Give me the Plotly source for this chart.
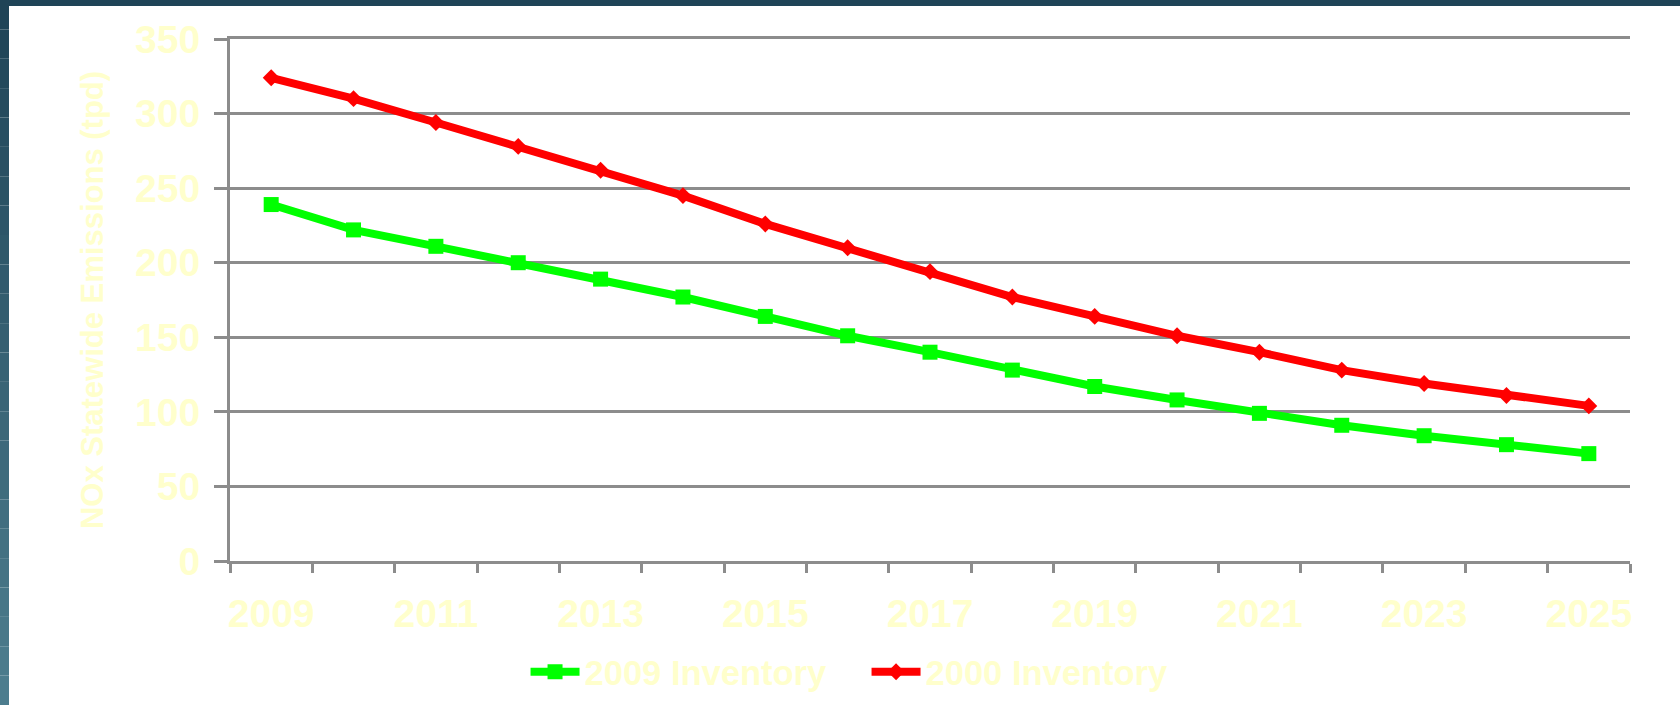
import plotly.graph_objects as go

# ---- data ----
years = [2009, 2010, 2011, 2012, 2013, 2014, 2015, 2016, 2017,
         2018, 2019, 2020, 2021, 2022, 2023, 2024, 2025]
inv_2009 = [239, 222, 211, 200, 189, 177, 164, 151, 140,
            128, 117, 108, 99, 91, 84, 78, 72]
inv_2000 = [324, 310, 294, 278, 262, 245, 226, 210, 194,
            177, 164, 151, 140, 128, 119, 111, 104]
label_years = [2009, 2011, 2013, 2015, 2017, 2019, 2021, 2023, 2025]
series_names = ["2009 Inventory", "2000 Inventory"]
y_title = "NOx Statewide Emissions (tpd)"

TXT = "#FFFFCC"
GRID = "#8c8c8c"
FONT = "Liberation Sans, Arial, sans-serif"

W, H = 1680, 705
L, R, T, B = 230, 50, 39, 144
PW, PH = W - L - R, H - T - B

fig = go.Figure()
fig.add_trace(go.Scatter(
    x=years, y=inv_2009, name=series_names[0], mode="lines+markers",
    line=dict(color="#00FF00", width=8),
    marker=dict(symbol="square", size=15, color="#00FF00"),
))
fig.add_trace(go.Scatter(
    x=years, y=inv_2000, name=series_names[1], mode="lines+markers",
    line=dict(color="#FF0000", width=8),
    marker=dict(symbol="diamond", size=13, color="#FF0000"),
))

# decorative slide frame (top and left dark strips)
def px_x(px):
    return (px - L) / PW

def px_y(py):
    return (H - B - py) / PH

shapes = [dict(type="rect", xref="paper", yref="paper", layer="above",
               x0=px_x(0), x1=px_x(W), y0=px_y(6), y1=px_y(0),
               fillcolor="#1f4457", line=dict(width=0))]
n = 24
c0 = (0x1f, 0x44, 0x57)
c1 = (0x4d, 0x7d, 0x8e)
for i in range(n):
    t = i / (n - 1)
    col = "rgb(%d,%d,%d)" % tuple(round(a + (b - a) * t) for a, b in zip(c0, c1))
    shapes.append(dict(type="rect", xref="paper", yref="paper", layer="above",
                       x0=px_x(0), x1=px_x(9),
                       y0=px_y(H * (i + 1) / n), y1=px_y(H * i / n),
                       fillcolor=col, line=dict(width=0)))

boundaries = [y - 0.5 for y in years] + [years[-1] + 0.5]

fig.update_layout(
    width=W, height=H,
    margin=dict(l=L, r=R, t=T, b=B, autoexpand=False),
    paper_bgcolor="white", plot_bgcolor="white",
    font=dict(family=FONT, color=TXT, size=36, weight="bold"),
    shapes=shapes,
    showlegend=True,
    legend=dict(orientation="h", xref="container", yref="container",
                x=0.5158, xanchor="center", y=0.047, yanchor="middle",
                font=dict(size=34.5, color=TXT, family=FONT, weight="bold"),
                bgcolor="rgba(0,0,0,0)", itemwidth=49, tracegroupgap=0,
                entrywidth=277),
    xaxis=dict(
        range=[years[0] - 0.5, years[-1] + 0.5],
        tickmode="array", tickvals=label_years,
        ticktext=[str(y) for y in label_years],
        ticks="", showgrid=False, zeroline=False,
        showline=True, mirror=True, linecolor=GRID, linewidth=3,
        tickfont=dict(size=39, color=TXT, family=FONT, weight="bold"),
        ticklabelstandoff=16,
        minor=dict(tickmode="array", tickvals=boundaries, ticks="outside",
                   ticklen=9, tickwidth=3, tickcolor=GRID, showgrid=False),
    ),
    yaxis=dict(
        range=[0, 350], tickmode="linear", tick0=0, dtick=50,
        showgrid=True, gridcolor=GRID, gridwidth=2.5,
        zeroline=False, showline=True, linecolor=GRID, linewidth=3,
        ticks="outside", ticklen=13, tickwidth=2.5, tickcolor=GRID,
        tickfont=dict(size=39, color=TXT, family=FONT, weight="bold"),
        ticklabelstandoff=6,
        title=dict(text=y_title, standoff=23,
                   font=dict(size=31, color=TXT, family=FONT, weight="bold")),
    ),
)

fig.write_html("out.html")
